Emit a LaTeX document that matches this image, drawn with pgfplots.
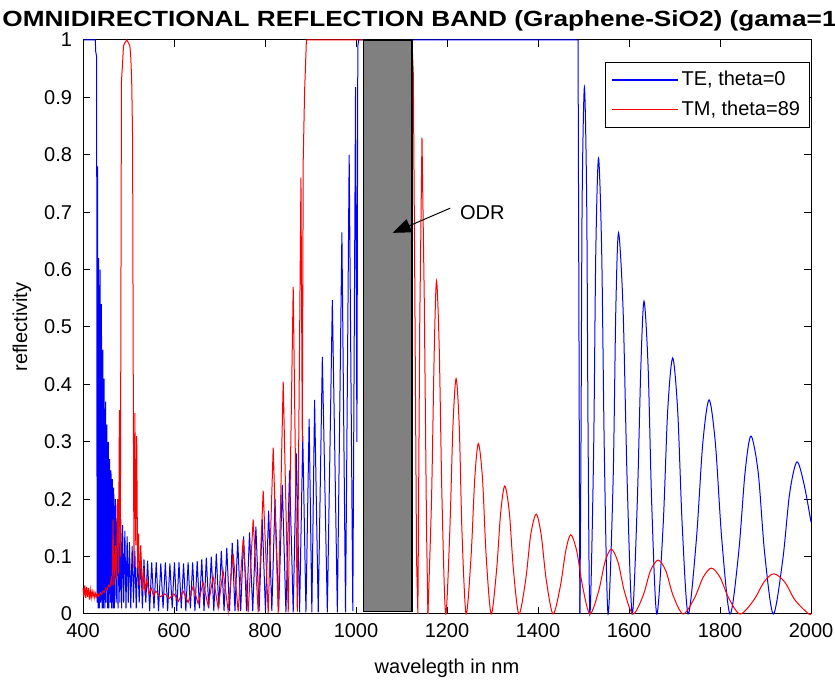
\documentclass[border=0pt]{standalone}
\usepackage{pgfplots}
\pgfplotsset{compat=1.18}
\usetikzlibrary{arrows.meta}
\usepackage{fontspec}
\usepackage{graphicx}
\setmainfont{Liberation Sans}
\definecolor{mblue}{RGB}{0,0,255}
\definecolor{mred}{RGB}{255,0,0}
\definecolor{boxgray}{RGB}{128,128,128}
\begin{document}
\begin{tikzpicture}[x=1pt,y=1pt]
\begin{axis}[
  at={(41.5pt,37.5pt)}, anchor=south west,
  scale only axis, width=364pt, height=287pt,
  xmin=400, xmax=2000, ymin=0, ymax=1,
  xtick={400,600,800,1000,1200,1400,1600,1800,2000},
  ytick={0,0.1,0.2,0.3,0.4,0.5,0.6,0.7,0.8,0.9,1},
  scaled ticks=false,
  /pgf/number format/1000 sep={},
  /pgf/number format/assume math mode=true,
  tick align=inside, tick pos=both,
  major tick length=3.5pt,
  every tick/.style={black, line width=0.5pt},
  axis line style={black, line width=0.5pt},
  ticklabel style={font=\fontsize{10}{12}\selectfont},
  xticklabel style={yshift=-1pt},
  yticklabel style={xshift=-2pt},
  xlabel={wavelegth in nm},
  ylabel={reflectivity},
  label style={font=\fontsize{10}{12}\selectfont},
  xlabel style={at={(axis description cs:0.5,-0.0941)}, anchor=center},
  ylabel style={at={(axis description cs:-0.0838,0.5)}, anchor=center},
  clip=false,
  legend style={at={(0.998,0.962)}, anchor=north east, draw=black, line width=0.5pt,
    font=\fontsize{10}{12}\selectfont, cells={anchor=west}, inner xsep=3pt, inner ysep=3pt,
    row sep=3pt, nodes={inner sep=1.5pt}},
  legend image code/.code={\draw[#1,line width=0.6pt] (0pt,0pt) -- (33pt,0pt);},
]
\addplot[mblue, line width=0.5pt] coordinates {
(400,1)(427,1)(428,0.98)(430,0.97)(431,0.02)(432,0.78)(433,0.01)(434.5,0.62)(436,0.01)(437.5,0.6)(439,0.02)(440.5,0.54)(442,0.01)(443.5,0.46)(445,0.01)(446.5,0.41)(448,0.01)(449.5,0.37)(451,0.02)(452.5,0.33)(454,0.01)(455.5,0.3)(457,0.01)(458.5,0.27)(460,0.02)(461.5,0.25)(463,0.01)(464.5,0.235)(466,0.01)(467.5,0.22)(469,0.01)(471,0.2)(473,0.02)(475,0.19)(477,0.01)(479,0.175)(481,0.02)(483,0.165)(485,0.01)(487,0.155)(489.5,0.02)(492,0.145)(494.5,0.01)(497,0.135)(499.5,0.02)(502,0.125)(505,0.01)(508,0.118)(511,0.02)(514,0.11)(517,0.01)(520,0.105)(523.5,0.02)(527,0.1)(530.5,0.01)(534,0.095)(538,0.02)(542,0.093)(546.5,0.005)(551,0.09)(556,0.01)(561,0.09)(566,0.005)(571,0.088)(576,0.01)(581,0.09)(586,0.005)(591,0.088)(596,0.01)(601,0.09)(606,0.005)(611,0.09)(616,0.01)(621,0.088)(626,0.005)(631,0.09)(636,0.01)(641,0.09)(646,0.005)(651,0.092)(656,0.01)(661,0.095)(666,0.005)(671,0.098)(676.5,0.01)(682,0.1)(687.5,0.005)(693,0.105)(698.5,0.01)(704,0.11)(710,0.005)(716,0.115)(722,0.005)(728,0.124)(734,0.005)(740,0.13)(746.5,0.005)(753,0.135)(759.5,0.005)(766,0.142)(773,0.005)(780,0.152)(787,0.005)(794,0.165)(801,0.005)(808,0.18)(815,0.005)(822,0.2)(830,0.005)(838,0.225)(846,0.003)(854,0.25)(862,0.003)(869,0.28)(876,0.003)(883,0.31)(890,0.003)(897,0.34)(903,0.003)(909,0.373)(917,0.003)(926,0.448)(937,0.003)(948,0.547)(959,0.003)(969,0.665)(977,0.003)(985,0.8)(993,0.005)(999,0.918)(1002,0.3)(1004,0.99)(1006,1)(1488,1)(1490,0.5)(1492,0)
};
\addlegendentry{TE, theta=0}
\addplot[mblue, line width=0.5pt, smooth, forget plot] coordinates {
(1492,0)(1494.5,0.3)(1497,0.72)(1502,0.918)(1507,0.72)(1510,0.32)(1514,0)(1522,0.27)(1527,0.63)(1533,0.794)(1540,0.63)(1546,0.27)(1554,0)(1565,0.23)(1571,0.53)(1577,0.664)(1587,0.53)(1596,0.23)(1607,0)(1618,0.19)(1626,0.43)(1633,0.545)(1642,0.43)(1650,0.19)(1661,0)(1675,0.154)(1685,0.354)(1696,0.446)(1707,0.354)(1717,0.154)(1730,0)(1748,0.129)(1762,0.296)(1776,0.373)(1790,0.296)(1804,0.129)(1822,0)(1841,0.107)(1855,0.246)(1868,0.31)(1884,0.246)(1898,0.107)(1917,0)(1938,0.095)(1953,0.21)(1969,0.265)(1985,0.225)(2000,0.16)
};
\addplot[mred, line width=0.5pt] coordinates {
(400,0.045)(402,0.03)(404,0.05)(406,0.028)(408,0.047)(410,0.03)(412,0.045)(414,0.025)(416,0.042)(418,0.028)(420,0.04)(422,0.03)(424,0.038)(426,0.028)(428,0.036)(430,0.03)(432,0.035)(435,0.031)(438,0.037)(441,0.034)(444,0.04)(447,0.038)(450,0.045)(453,0.042)(456,0.05)(459,0.047)(462,0.06)(464,0.05)(466,0.165)(468,0.05)(471,0.12)(473,0.06)(476,0.2)(478,0.07)(480,0.355)(482,0.1)(483.5,0.6)(484.5,0.927)(487,0.96)(489,0.99)(492,0.995)(496,1)(500,0.995)(503,0.99)(505,0.97)(507,0.93)(509,0.83)(510.5,0.4)(512,0.08)(514,0.35)(516,0.12)(518,0.31)(520,0.08)(522,0.14)(524,0.05)(527,0.12)(530,0.04)(533,0.08)(536,0.04)(540,0.06)(545,0.035)(550,0.045)(555,0.032)(560,0.04)(570,0.03)(580,0.035)(590,0.027)(600,0.035)(610,0.022)(620,0.04)(631,0.02)(642,0.048)(653,0.018)(664,0.055)(675,0.014)(686,0.065)(697,0.01)(708,0.075)(719,0.005)(730,0.105)(741,0.004)(752,0.13)(763,0.003)(774,0.165)(785,0.003)(796,0.215)(807,0.002)(818,0.29)(829,0.002)(840,0.405)(851,0.003)(862,0.57)(871,0.004)(879,0.76)(882,0.3)(884,0.79)(887,0.91)(891,1)(1123,1)(1126,0.94)(1129,0.6)(1133,0.1)(1136,0)(1140,0.5)(1145,0.83)(1150,0.55)(1155,0.15)(1158,0)
};
\addlegendentry{TM, theta=89}
\addplot[mred, line width=0.5pt, smooth, forget plot] coordinates {
(1158,0)(1166,0.2)(1172,0.46)(1177,0.58)(1183,0.46)(1189,0.2)(1197,0)(1206,0.141)(1213,0.326)(1220,0.41)(1227,0.326)(1233,0.141)(1242,0)(1253,0.102)(1261,0.236)(1269,0.297)(1278,0.236)(1286,0.102)(1297,0)(1309,0.077)(1318,0.177)(1327,0.223)(1337,0.177)(1346,0.077)(1358,0)(1373,0.06)(1384,0.138)(1396,0.174)(1407,0.138)(1418,0.06)(1433,0)(1449,0.048)(1461,0.11)(1472,0.138)(1485,0.11)(1498,0.048)(1514,0)(1533,0.039)(1547,0.09)(1561,0.113)(1576,0.09)(1590,0.039)(1609,0)(1631,0.032)(1647,0.075)(1664,0.094)(1681,0.075)(1697,0.032)(1719,0)(1744,0.028)(1763,0.064)(1781,0.08)(1800,0.064)(1819,0.028)(1844,0)(1874,0.024)(1897,0.056)(1918,0.07)(1942,0.056)(1965,0.024)(1995,0)(2000,0.001)
};
\filldraw[fill=boxgray, draw=black, line width=0.6pt] (axis cs:1017,0.005) rectangle (axis cs:1123,1);
\draw[black, line width=0.5pt, -{Triangle[width=7pt,length=9pt]}] (axis cs:1207,0.707) -- (axis cs:1081,0.664);
\node[anchor=west, inner sep=0pt, font=\fontsize{10}{12}\selectfont] at (axis cs:1228,0.699) {ODR};
\end{axis}
\node[anchor=base west, inner sep=0pt, font=\bfseries\fontsize{11}{13}\selectfont] at (1,331) {\scalebox{1.19}[1]{OMNIDIRECTIONAL REFLECTION BAND (Graphene-SiO2) (gama=1)}};
\pgfresetboundingbox
\path[use as bounding box] (0,0) rectangle (417.5,344.5);
\end{tikzpicture}
\end{document}
